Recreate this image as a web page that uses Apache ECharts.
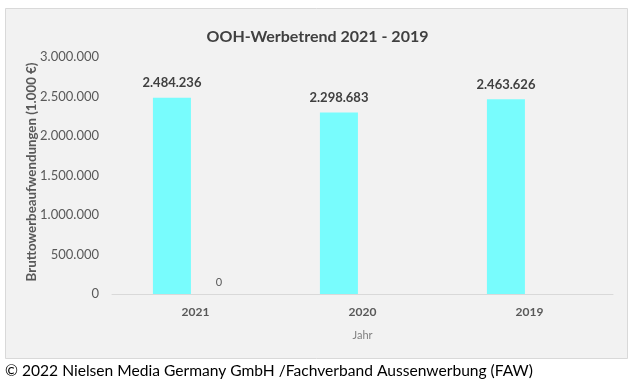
<!DOCTYPE html>
<html><head><meta charset="utf-8">
<script src="https://cdn.jsdelivr.net/npm/echarts@6/dist/echarts.min.js"></script>
<style>html,body{margin:0;padding:0;background:#fff}#c{width:635px;height:387px}</style>
</head><body><div id="c"></div>
<script>
const categories = ['2021', '2020', '2019'];
const seriesMain = [2484236, 2298683, 2463626];
const seriesZero = [0, null, null];
const yTicks = [0, 500000, 1000000, 1500000, 2000000, 2500000, 3000000];
const titleText = 'OOH-Werbetrend 2021 - 2019';
const yAxisName = 'Bruttowerbeaufwendungen (1.000 €)';
const xAxisName = 'Jahr';
const sourceText = '© 2022 Nielsen Media Germany GmbH /Fachverband Aussenwerbung (FAW)';

const fmt = v => String(Math.round(v)).replace(/\B(?=(\d{3})+(?!\d))/g, '.');
const FONT = 'Lato';
const chart = echarts.init(document.getElementById('c'), null, {renderer: 'canvas'});
chart.setOption({
  animation: false,
  textStyle: {fontFamily: FONT},
  graphic: [
    {type: 'rect', z: -10, shape: {x: 5.5, y: 8.5, width: 622, height: 350},
     style: {fill: '#f2f2f2', stroke: '#d9d9d9', lineWidth: 1}},
    {type: 'text', left: 5, top: 363,
     style: {text: sourceText, fill: '#000', font: '15.6px ' + FONT}},
    {type: 'text', x: 32, y: 172, rotation: Math.PI / 2,
     style: {text: yAxisName, fill: '#595959', font: 'bold 13.3px ' + FONT,
       align: 'center', verticalAlign: 'middle'}}
  ],
  title: {text: titleText, left: 'center', top: 24,
    textStyle: {fontFamily: FONT, fontSize: 16, fontWeight: 'bold', color: '#404040'}},
  grid: {left: 112, right: 22, top: 57, bottom: 93},
  xAxis: {
    type: 'category', data: categories,
    name: xAxisName, nameLocation: 'middle', nameGap: 36,
    nameTextStyle: {color: '#7f7f7f', fontSize: 11},
    axisLine: {lineStyle: {color: '#d9d9d9'}},
    axisTick: {show: false},
    axisLabel: {color: '#595959', fontSize: 12, fontWeight: 'bold', margin: 12}
  },
  yAxis: {
    type: 'value', min: yTicks[0], max: yTicks[yTicks.length - 1], interval: yTicks[1] - yTicks[0],
    splitLine: {show: false},
    axisLine: {show: false}, axisTick: {show: false},
    axisLabel: {color: '#595959', fontSize: 13, margin: 13, formatter: fmt}
  },
  series: [
    {type: 'bar', data: seriesMain, barWidth: 38, barGap: '24%',
     itemStyle: {color: '#78fcfd'},
     label: {show: true, position: 'top', distance: 8, formatter: p => fmt(p.value),
       color: '#404040', fontSize: 13, fontWeight: 'bold'}},
    {type: 'bar', data: seriesZero, barWidth: 38,
     itemStyle: {color: '#4472c4'},
     label: {show: true, position: 'top', distance: 6, formatter: p => fmt(p.value),
       color: '#595959', fontSize: 11}}
  ]
});
</script></body></html>
